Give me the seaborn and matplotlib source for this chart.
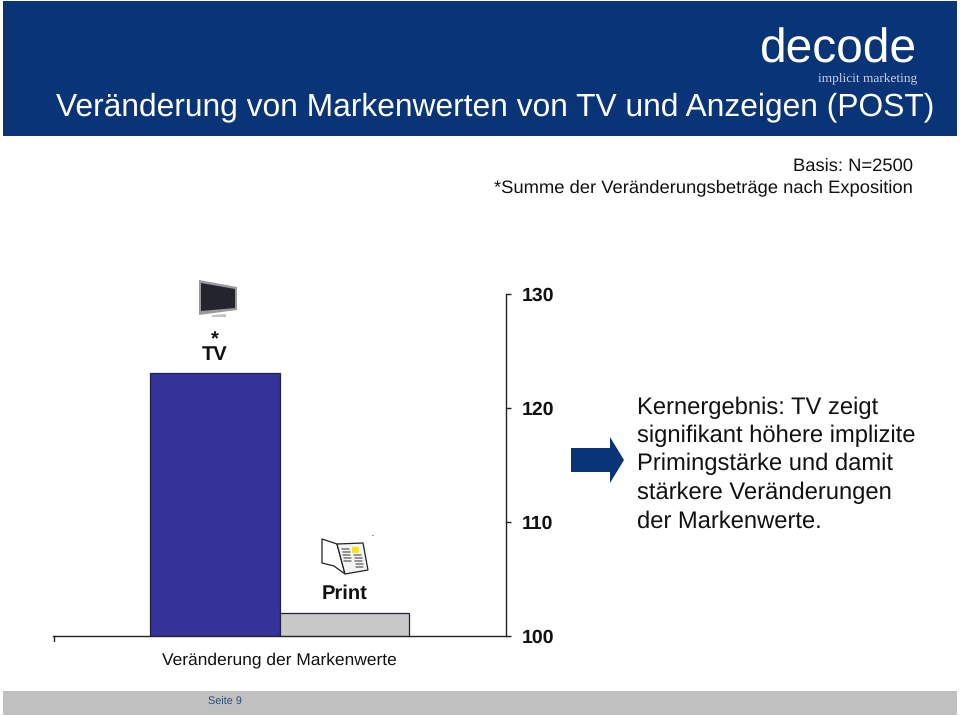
import pandas as pd
import numpy as np
import matplotlib
matplotlib.use('Agg')
import matplotlib.pyplot as plt
from matplotlib.patches import Polygon, Rectangle
import seaborn as sns

# values
group = ['Veränderung der Markenwerte']
media = ['TV', 'Print']
values = [123.05, 102.0]
bar_colors = ['#333399', '#c8c8c8']
y_ticks = [100, 110, 120, 130]

title = 'Veränderung von Markenwerten von TV und Anzeigen (POST)'
notes = ['Basis: N=2500', '*Summe der Veränderungsbeträge nach Exposition']
key_result = ['Kernergebnis: TV zeigt', 'signifikant höhere implizite',
              'Primingstärke und damit', 'stärkere Veränderungen', 'der Markenwerte.']

NAVY = '#0a3478'
W, H = 960, 716

sns.set_theme(style='white')
plt.rcParams['font.family'] = ['Liberation Sans', 'DejaVu Sans']
plt.rcParams['text.hinting'] = 'none'

df = pd.DataFrame({'group': group * 2, 'medium': media, 'wert': values})

fig = plt.figure(figsize=(W / 100, H / 100), dpi=100)

# overlay in pixel coordinates for header, footer and pictograms
bg = fig.add_axes([0, 0, 1, 1])
bg.set_xlim(0, W)
bg.set_ylim(H, 0)
bg.axis('off')


def poly(points, **kw):
    kw.setdefault('linewidth', 0)
    bg.add_patch(Polygon(points, closed=True, **kw))


bg.add_patch(Rectangle((3, 1), 954, 135, color=NAVY, linewidth=0))
bg.add_patch(Rectangle((3, 691), 954, 24, color='#c0c0c0', linewidth=0))
bg.text(56, 115.5, title, color='white', fontsize=22.9, va='baseline', ha='left')
bg.text(917, 62.5, 'decode', color='white', fontsize=34.5, va='baseline', ha='right')
bg.text(917, 78.5, 'implicit marketing', color='#c8d1e2', fontsize=9.6, va='center', ha='right',
        family=['Liberation Serif', 'DejaVu Serif'])
bg.text(913, 171, notes[0], color='#111111', fontsize=13.2, va='baseline', ha='right')
bg.text(913, 192, notes[1], color='#111111', fontsize=13.2, va='baseline', ha='right')
bg.text(208, 702, 'Seite 9', color='#2c4a80', fontsize=7.8, va='center', ha='left')

# key result text and arrow
for i, line in enumerate(key_result):
    bg.text(637, 407.5 + i * 28.4, line, color='#111111', fontsize=17.1, va='center', ha='left')
poly([(571, 448), (610, 448), (610, 437), (624, 460), (610, 483), (610, 472), (571, 472)],
     facecolor=NAVY)

# tv pictogram
poly([(199, 280), (237, 287), (237, 310), (199, 315)], facecolor='#9a9a9a')
poly([(201, 283), (235, 289), (235, 308), (201, 311)], facecolor='#24242c')
poly([(212, 315), (226, 314), (226, 317), (212, 317)], facecolor='#c4c4c4')
bg.text(215, 360, '*\nTV', color='#111111', fontsize=14.5, fontweight='bold', va='baseline',
        ha='center', linespacing=0.75, multialignment='center')

# print pictogram
poly([(322, 539), (337, 544), (345, 574), (334, 566), (322, 563)],
     facecolor='white', edgecolor='#222222', linewidth=0.9)
poly([(337, 544), (363, 543), (368, 570), (345, 574)],
     facecolor='#f4f4f4', edgecolor='#222222', linewidth=0.9)
for col_x, col_y in [(342, 549), (354, 555)]:
    for k in range(5):
        bg.plot([col_x + k * 0.6, col_x + 7 + k * 0.6], [col_y + k * 3, col_y + k * 3],
                color='#777777', linewidth=1.1)
bg.add_patch(Rectangle((352, 547), 7, 6, color='#f5e625', linewidth=0))
bg.add_patch(Rectangle((372, 534.5), 2, 1, color='#999999', linewidth=0))
bg.text(345, 593.5, 'Print', color='#111111', fontsize=14.5, fontweight='bold', va='center', ha='center')

# the chart itself: axes from x=53.5 to x=505.5, y=130 at 293.5, y=100 at 635.5
ax = fig.add_axes([53.5 / W, 1 - 635.5 / H, 452 / W, 342 / H])
ax.patch.set_alpha(0)
sns.barplot(data=df, x='group', y='wert', hue='medium', palette=bar_colors, width=259 / 452, gap=0,
            saturation=1, edgecolor='#222244', linewidth=0.9, legend=False, ax=ax)
ax.set_ylim(100, 130)
ax.set_xlim(-0.5, 0.5)
ax.set_yticks(y_ticks)
ax.set_xlabel('')
ax.set_ylabel('')
sns.despine(ax=ax, top=True, left=True, right=False, bottom=False)
ax.yaxis.tick_right()
ax.tick_params(axis='y', left=False, right=True, length=3.6, width=1, color='#222222', pad=8)
for lab in ax.get_yticklabels():
    lab.set_fontsize(14)
    lab.set_fontweight('bold')
    lab.set_color('#111111')
ax.tick_params(axis='x', length=0, pad=12)
for lab in ax.get_xticklabels():
    lab.set_fontsize(12.5)
    lab.set_color('#111111')
ax.spines['right'].set_color('#222222')
ax.spines['bottom'].set_color('#222222')
ax.spines['right'].set_linewidth(1)
ax.spines['bottom'].set_linewidth(1)

# small end tick at the left of the baseline
bg.plot([54, 54], [635.5, 641], color='#222222', linewidth=1)

fig.savefig('out.png', dpi=100)
